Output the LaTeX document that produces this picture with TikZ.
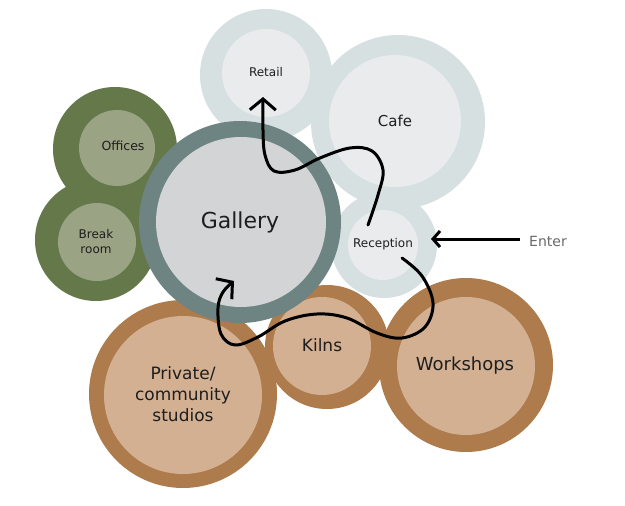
\documentclass[tikz,border=0pt]{standalone}
\usepackage{fontspec}
\setmainfont{DejaVu Sans}
\usetikzlibrary{arrows.meta}
\definecolor{lightout}{HTML}{D6E0E0}
\definecolor{lightin}{HTML}{E9EBEC}
\definecolor{galring}{HTML}{6E8482}
\definecolor{galin}{HTML}{D2D4D5}
\definecolor{greenout}{HTML}{65784A}
\definecolor{greenin}{HTML}{9AA383}
\definecolor{brownout}{HTML}{AD7B4C}
\definecolor{brownin}{HTML}{D3B092}
\definecolor{labeltext}{HTML}{1E1E1E}
\definecolor{entertext}{HTML}{6A6A6A}
\tikzset{
  lbl/.style={text=labeltext, align=center, inner sep=0pt},
  flow/.style={line width=3pt, black, line cap=round, line join=round,
    -{Straight Barb[length=11pt,width=26pt,line width=3pt]}},
  enterarrow/.style={line width=3pt, black,
    -{Straight Barb[length=7pt,width=16pt,line width=3pt]}}
}
\begin{document}
\begin{tikzpicture}[x=1pt,y=-1pt]
\path[use as bounding box, fill=white] (0,0) rectangle (625,506);
% light blue group
\fill[lightout] (266,75) circle[radius=66pt];
\fill[lightout] (398,122) circle[radius=87pt];
\fill[lightout] (384,245) circle[radius=53pt];
\fill[lightin] (266,73) circle[radius=44pt];
\fill[lightin] (395,121) circle[radius=66pt];
\fill[lightin] (383,245) circle[radius=35pt];
% green group
\fill[greenout] (115,149) circle[radius=62pt];
\fill[greenout] (96,240) circle[radius=61pt];
\fill[greenin] (117,148) circle[radius=38pt];
\fill[greenin] (97,242) circle[radius=39pt];
% brown group
\fill[brownout] (183,394) circle[radius=94pt];
\fill[brownout] (327,347) circle[radius=62pt];
\fill[brownout] (466,365) circle[radius=87pt];
\fill[brownin] (183,395) circle[radius=79pt];
\fill[brownin] (322,346) circle[radius=49pt];
\fill[brownin] (466,366) circle[radius=69pt];
% gallery
\fill[galring] (240,222) circle[radius=101pt];
\fill[galin] (241,222) circle[radius=85pt];
% labels
\node[lbl, font=\fontsize{12}{14}\selectfont] (retail) at (266,72) {Retail};
\node[lbl, font=\fontsize{15}{18}\selectfont] (cafe) at (395,121) {Cafe};
\node[lbl, font=\fontsize{22}{26}\selectfont] (gallery) at (240,222) {Gallery};
\node[lbl, font=\fontsize{12.5}{15}\selectfont] (offices) at (123,146) {Offices};
\node[lbl, font=\fontsize{12}{15}\selectfont] (break) at (96,242) {Break\\room};
\node[lbl, font=\fontsize{12}{14}\selectfont] (reception) at (383,244) {Reception};
\node[lbl, font=\fontsize{17}{21}\selectfont] (studios) at (183,394) {Private/\\community\\studios};
\node[lbl, font=\fontsize{17}{20}\selectfont] (kilns) at (322,345) {Kilns};
\node[lbl, font=\fontsize{18}{21}\selectfont] (workshops) at (465,366) {Workshops};
\node[lbl, text=entertext, font=\fontsize{14}{17}\selectfont, anchor=west] (enter) at (529,241) {Enter};
% connector endpoints
\coordinate (recTop) at (368,225);
\coordinate (recBot) at (402,258);
\coordinate (retailIn) at (263,97);
\coordinate (galleryIn) at (234,281);
\coordinate (enterStart) at (520,239);
\coordinate (enterTip) at (431,239);
% flows
\draw[flow] plot[smooth, tension=0.6] coordinates {(recTop) (378,195) (383,170) (372,151) (350,148) (320,158) (295,170) (274,171) (265,155) (263,130) (retailIn)};
\draw[flow] plot[smooth, tension=0.6] coordinates {(recBot) (422,276) (433,303) (425,327) (402,338) (377,333) (347,318) (317,314) (285,321) (258,337) (235,345) (221,334) (218,308) (223,292) (galleryIn)};
\draw[enterarrow] (enterStart) -- (enterTip);
\end{tikzpicture}
\end{document}
